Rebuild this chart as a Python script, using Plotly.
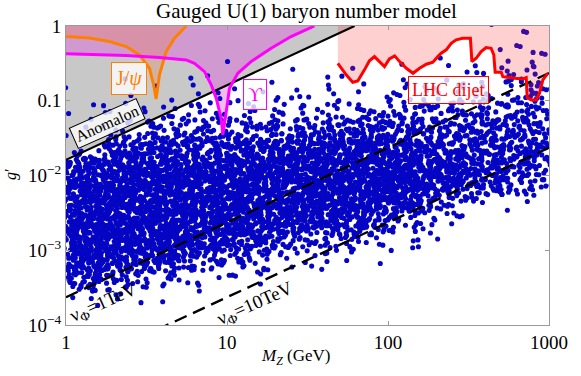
import plotly.graph_objects as go

# ---------------- data ----------------
TITLE = "Gauged U(1) baryon number model"
X_TICKS = [1, 10, 100, 1000]
X_TICK_TEXT = ["1", "10", "100", "1000"]
Y_TICKS = [1e-4, 1e-3, 1e-2, 0.1, 1]
Y_TICK_TEXT = ["10<sup>−4</sup>", "10<sup>−3</sup>", "10<sup>−2</sup>", "0.1", "1"]

# Anomalon bound (solid black line, gray excluded region above it)
ANOMALON_M = [1.0, 62.0]
ANOMALON_G = [0.0162, 1.0]

# J/psi bound (orange)
JPSI_M = [1.0, 1.40, 1.86, 2.37, 2.86, 3.30, 3.50, 3.63, 3.73, 3.81, 4.19, 4.72, 5.58]
JPSI_G = [0.723, 0.69, 0.62, 0.531, 0.411, 0.272, 0.164, 0.106, 0.164, 0.224, 0.455, 0.686, 1.0]

# Upsilon bound (magenta)
UPS_M = [1.0, 2.37, 3.81, 5.58, 6.28, 7.25, 7.98, 8.57, 9.20, 9.42, 9.89, 10.36, 11.67, 14.1, 18.8, 25.0, 34.9]
UPS_G = [0.424, 0.402, 0.378, 0.352, 0.317, 0.245, 0.163, 0.108, 0.058, 0.035, 0.071, 0.147, 0.233, 0.334, 0.504, 0.723, 1.0]

# LHC dijet bound (red)
LHC_M = [48.8, 55.0, 60.4, 64.9, 71.4, 76.7, 82.4, 88.5, 95.1, 102, 110, 118, 130, 143, 157, 173, 190,
         204, 214, 230, 247, 265, 291, 325, 332, 353, 379, 407, 437, 454, 463, 505, 517, 611, 688,
         722, 732, 775, 833, 873, 916, 984, 1000]
LHC_G = [0.317, 0.222, 0.177, 0.184, 0.259, 0.342, 0.390, 0.334, 0.286, 0.363, 0.399, 0.334, 0.272,
         0.233, 0.272, 0.308, 0.327, 0.390, 0.432, 0.480, 0.588, 0.653, 0.686, 0.686, 0.334, 0.370,
         0.455, 0.515, 0.504, 0.411, 0.240, 0.240, 0.210, 0.200, 0.196, 0.204, 0.110, 0.1025,
         0.1025, 0.126, 0.190, 0.233, 0.245]

# v_Phi = 1 TeV and 10 TeV reference lines (dashed)
VPHI1_M = [1.0, 1000.0]
VPHI1_G = [2.35e-4, 0.235]
VPHI10_M = [1.0, 1000.0]
VPHI10_G = [2.35e-5, 0.0235]

# Scan points: number of points per cell.
# Columns: log10(M_Z) cells starting at COL_LOGM (width 0.25 decade)
# Rows: log10(g') cells starting (top edge) at ROW_LOGG (height 0.25 decade)
COL_LOGM = [0.0, 0.25, 0.5, 0.75, 1.0, 1.25, 1.5, 1.75, 2.0, 2.25, 2.5, 2.75]
ROW_LOGG = [0.0, -0.25, -0.5, -0.75, -1.0, -1.25, -1.5, -1.75, -2.0, -2.25, -2.5, -2.75,
            -3.0, -3.25, -3.5, -3.75]
COUNTS = [
    [0, 0, 0, 0, 0, 0, 0, 0, 0, 0, 1, 3],
    [0, 0, 0, 0, 0, 0, 0, 0, 0, 1, 2, 6],
    [0, 1, 0, 1, 1, 1, 2, 1, 2, 3, 4, 10],
    [1, 2, 2, 3, 3, 4, 4, 4, 6, 8, 10, 20],
    [3, 3, 8, 12, 8, 10, 10, 15, 20, 25, 25, 30],
    [4, 5, 28, 25, 25, 30, 40, 50, 40, 40, 40, 40],
    [3, 50, 60, 55, 55, 65, 80, 85, 70, 55, 50, 45],
    [75, 85, 85, 85, 85, 90, 90, 90, 85, 70, 60, 45],
    [90, 90, 90, 90, 90, 90, 90, 90, 90, 75, 50, 25],
    [90, 90, 90, 90, 90, 90, 90, 90, 60, 20, 3, 1],
    [90, 90, 90, 90, 90, 75, 70, 50, 20, 5, 0, 0],
    [90, 90, 90, 80, 60, 30, 25, 15, 5, 1, 0, 0],
    [90, 80, 55, 30, 20, 8, 5, 2, 0, 0, 0, 0],
    [55, 25, 12, 6, 5, 0, 0, 0, 0, 0, 0, 0],
    [8, 3, 1, 0, 0, 0, 0, 0, 0, 0, 0, 0],
    [0, 0, 0, 0, 0, 0, 0, 0, 0, 0, 0, 0],
]
CELL = 0.25
SOFT = 0.6   # edge softening (fraction of a cell)


# ---------------- place scan points inside their cells (deterministic Halton placement) ----------------
def halton(i, base):
    f, r = 1.0, 0.0
    while i > 0:
        f /= base
        r += f * (i % base)
        i //= base
    return r


pts_m, pts_g = [], []
k = 20
for r, row in enumerate(COUNTS):
    for c, n in enumerate(row):
        for _ in range(n):
            k += 1
            u1, v1, u2, v2 = halton(k, 2), halton(k, 3), halton(k, 5), halton(k, 7)
            lx = COL_LOGM[c] + CELL * (u1 + SOFT * (u2 - 0.5))
            ly = ROW_LOGG[r] - CELL * (v1 + SOFT * (v2 - 0.5))
            pts_m.append(10 ** lx)
            pts_g.append(10 ** ly)

SERIF = "Liberation Serif, Times New Roman, serif"

fig = go.Figure()

# gray anomalon region
fig.add_trace(go.Scatter(
    x=[ANOMALON_M[0], ANOMALON_M[1], ANOMALON_M[0], ANOMALON_M[0]],
    y=[ANOMALON_G[0], ANOMALON_G[1], ANOMALON_G[1], ANOMALON_G[0]],
    fill="toself", fillcolor="rgb(200,200,200)", line=dict(width=0),
    mode="lines", hoverinfo="skip", showlegend=False))

# magenta region
fig.add_trace(go.Scatter(
    x=UPS_M + [UPS_M[0], UPS_M[0]], y=UPS_G + [1.0, UPS_G[0]],
    fill="toself", fillcolor="rgba(220,80,220,0.38)", line=dict(width=0),
    mode="lines", hoverinfo="skip", showlegend=False))

# orange region
fig.add_trace(go.Scatter(
    x=JPSI_M + [JPSI_M[0], JPSI_M[0]], y=JPSI_G + [1.0, JPSI_G[0]],
    fill="toself", fillcolor="rgba(230,130,90,0.32)", line=dict(width=0),
    mode="lines", hoverinfo="skip", showlegend=False))

# scan points
fig.add_trace(go.Scatter(
    x=pts_m, y=pts_g, mode="markers",
    marker=dict(size=5.1, color="rgb(5,5,195)", line=dict(width=0)),
    hoverinfo="skip", showlegend=False))

# LHC region
fig.add_trace(go.Scatter(
    x=LHC_M + [LHC_M[-1], LHC_M[0], LHC_M[0]], y=LHC_G + [1.0, 1.0, LHC_G[0]],
    fill="toself", fillcolor="rgba(255,40,40,0.22)", line=dict(width=0),
    mode="lines", hoverinfo="skip", showlegend=False))

# lines
fig.add_trace(go.Scatter(x=ANOMALON_M, y=ANOMALON_G, mode="lines",
                         line=dict(color="black", width=2.2), hoverinfo="skip", showlegend=False))
fig.add_trace(go.Scatter(x=VPHI1_M, y=VPHI1_G, mode="lines",
                         line=dict(color="black", width=2.4, dash="13px,7px"), hoverinfo="skip", showlegend=False))
fig.add_trace(go.Scatter(x=VPHI10_M, y=VPHI10_G, mode="lines",
                         line=dict(color="black", width=2.4, dash="13px,7px"), hoverinfo="skip", showlegend=False))
fig.add_trace(go.Scatter(x=JPSI_M, y=JPSI_G, mode="lines",
                         line=dict(color="rgb(255,128,0)", width=3), hoverinfo="skip", showlegend=False))
fig.add_trace(go.Scatter(x=UPS_M, y=UPS_G, mode="lines",
                         line=dict(color="rgb(255,0,255)", width=3), hoverinfo="skip", showlegend=False))
fig.add_trace(go.Scatter(x=LHC_M[:-1], y=LHC_G[:-1], mode="lines",
                         line=dict(color="rgb(255,0,0)", width=3), hoverinfo="skip", showlegend=False))

# ---------------- layout ----------------
W, H = 581, 376
PL, PR, PT, PB = 66, 549.5, 26, 325   # plot-area edges in page pixels
L, T, R, B = PL, PT, W - PR, H - PB
PW, PH = PR - PL, PB - PT


def px_to_paper(px, py):
    return (px - PL) / PW, (PB - py) / PH


annots = []


def box_label(text, px, py, color, border, angle=0, size=18, pad=2):
    x, y = px_to_paper(px, py)
    annots.append(dict(text=text, x=x, y=y, xref="paper", yref="paper", showarrow=False,
                       font=dict(family=SERIF, size=size, color=color),
                       bgcolor="rgba(255,255,255,0.78)" if border else "rgba(0,0,0,0)",
                       bordercolor=border if border else "rgba(0,0,0,0)",
                       borderwidth=1 if border else 0, borderpad=pad, textangle=angle,
                       xanchor="center", yanchor="middle"))


box_label("J/<i>ψ</i>", 129.5, 78.5, "rgb(255,128,0)", "rgb(255,128,0)", size=20, pad=4)
box_label("ϒ", 255, 95, "rgb(255,0,255)", "rgb(255,0,255)", size=19, pad=4)
box_label("LHC dijet", 449, 90, "rgb(255,0,0)", "rgb(255,0,0)", size=18, pad=3)
box_label("Anomalon", 107, 123, "black", "black", angle=-24, size=16, pad=2)
box_label("ν<sub>Φ</sub>=1TeV", 104, 303, "black", None, angle=-24, size=19)
box_label("ν<sub>Φ</sub>=10TeV", 256, 304, "black", None, angle=-24, size=19)

# axis titles
x, y = px_to_paper(296, 357)
annots.append(dict(text="<i>M</i><sub><i>Z</i></sub> (GeV)", x=x, y=y, xref="paper", yref="paper",
                   showarrow=False, font=dict(family=SERIF, size=17, color="black"),
                   xanchor="center", yanchor="middle"))
x, y = px_to_paper(11, 174)
annots.append(dict(text="<i>g</i>′", x=x, y=y, xref="paper", yref="paper",
                   showarrow=False, font=dict(family=SERIF, size=16, color="black"),
                   textangle=-90, xanchor="center", yanchor="middle"))
# title
x, y = px_to_paper(307, 11)
annots.append(dict(text=TITLE, x=x, y=y, xref="paper", yref="paper",
                   showarrow=False, font=dict(family=SERIF, size=21, color="black"),
                   xanchor="center", yanchor="middle"))

axis_common = dict(type="log", showgrid=False, zeroline=False, showline=True, linecolor="#9a9a9a",
                   linewidth=1, mirror="ticks", ticks="inside", ticklen=4, tickcolor="#9a9a9a",
                   tickfont=dict(family=SERIF, size=19, color="black"))

fig.update_layout(
    width=W, height=H, margin=dict(l=L, r=R, t=T, b=B, pad=0),
    paper_bgcolor="white", plot_bgcolor="white",
    xaxis=dict(range=[0, 3], tickvals=X_TICKS, ticktext=X_TICK_TEXT, **axis_common),
    yaxis=dict(range=[-4, 0], tickvals=Y_TICKS, ticktext=Y_TICK_TEXT, **axis_common),
    annotations=annots, showlegend=False,
)

# remove the browser's default 8px body margin so the figure sits at the page origin
fig.write_html("out.html", config={"displayModeBar": False},
               post_script="document.body.style.margin='0';")
